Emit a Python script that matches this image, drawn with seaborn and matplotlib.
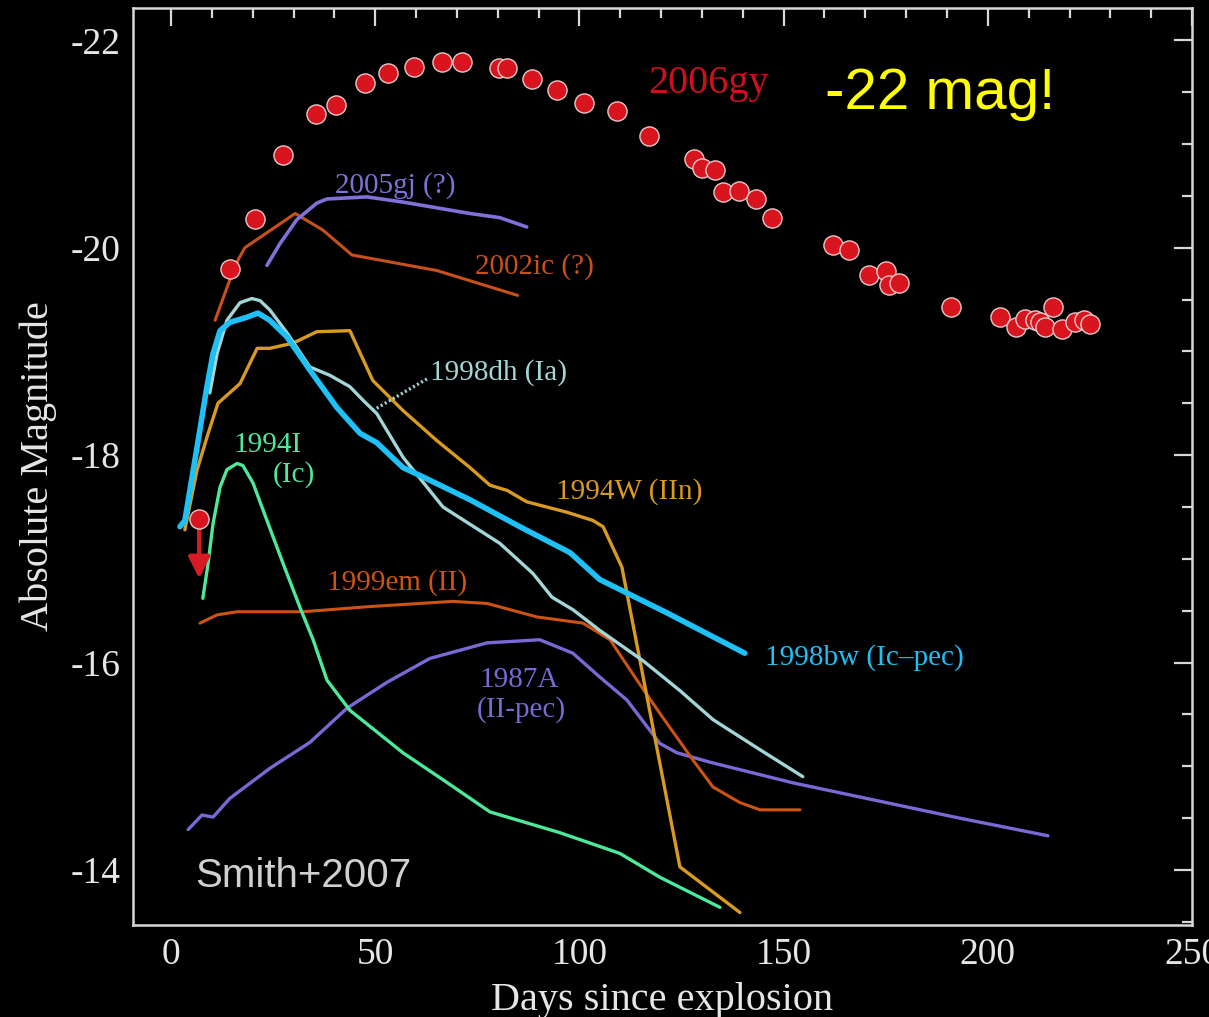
import numpy as np
import pandas as pd
import matplotlib
matplotlib.use('Agg')
import matplotlib.pyplot as plt
from matplotlib.ticker import MultipleLocator
import seaborn as sns

# --- light curve data (days since explosion, absolute mag) ---
sn2006gy_days = [14.4, 20.6, 27.4, 35.5, 40.4, 47.5, 53.1, 59.5, 66.3, 71.2, 80.3, 82.3,
                 88.4, 94.5, 101.1, 109.2, 117.0, 128.0, 130.0, 133.2, 135.1, 139.0,
                 143.2, 147.1, 162.1, 166.0, 170.9, 175.0, 175.8, 178.2, 190.9, 202.9,
                 206.9, 209.1, 211.5, 212.7, 214.0, 215.9, 218.1, 221.3, 223.5, 225.0]
sn2006gy_mag = [-19.79, -20.28, -20.89, -21.29, -21.38, -21.59, -21.68, -21.74, -21.79,
                -21.79, -21.73, -21.73, -21.63, -21.52, -21.40, -21.32, -21.08, -20.86,
                -20.77, -20.75, -20.54, -20.55, -20.47, -20.29, -20.03, -19.98, -19.74,
                -19.78, -19.64, -19.66, -19.43, -19.33, -19.24, -19.31, -19.30, -19.28,
                -19.24, -19.43, -19.22, -19.28, -19.30, -19.26]
# first epoch is an upper limit
sn2006gy_limit_day = 6.9
sn2006gy_limit_mag = -17.38
sn2006gy_limit_tip = -16.81

sn2005gj_days = [23.5, 26.7, 30.8, 35.7, 38.2, 48.0, 56.8, 73.2, 80.5, 87.1]
sn2005gj_mag = [-19.83, -20.04, -20.27, -20.43, -20.47, -20.49, -20.44, -20.33, -20.29, -20.20]

sn2002ic_days = [10.8, 14.4, 16.4, 18.1, 30.4, 32.1, 37.2, 44.3, 65.1, 84.9]
sn2002ic_mag = [-19.30, -19.69, -19.88, -20.00, -20.33, -20.29, -20.17, -19.93, -19.78, -19.54]

sn1998dh_days = [9.5, 11.3, 13.7, 16.9, 19.8, 21.8, 24.2, 28.4, 34.0, 38.9, 43.8, 47.0,
                 50.4, 56.8, 66.6, 80.5, 88.6, 93.3, 98.4, 105.0, 115.5, 124.6, 132.7,
                 144.2, 154.7]
sn1998dh_mag = [-18.60, -18.98, -19.30, -19.47, -19.51, -19.49, -19.40, -19.18, -18.85,
                -18.77, -18.66, -18.53, -18.40, -17.98, -17.50, -17.15, -16.86, -16.63,
                -16.51, -16.31, -16.02, -15.73, -15.45, -15.16, -14.90]

sn1998bw_days = [2.2, 3.4, 6.4, 8.8, 10.3, 12.0, 14.4, 18.6, 21.3, 24.2, 28.4, 34.0,
                 40.6, 46.3, 50.4, 56.8, 61.7, 73.2, 85.4, 97.7, 105.0, 121.4, 140.5]
sn1998bw_mag = [-17.31, -17.37, -18.08, -18.66, -18.98, -19.20, -19.28, -19.33, -19.37,
                -19.30, -19.14, -18.82, -18.46, -18.21, -18.12, -17.88, -17.79, -17.57,
                -17.31, -17.06, -16.80, -16.48, -16.09]

sn1994W_days = [3.4, 6.4, 9.1, 11.5, 16.9, 21.1, 24.2, 29.9, 35.7, 43.8, 49.4, 56.8,
                65.1, 73.2, 78.1, 82.3, 87.1, 96.9, 103.3, 105.8, 110.4, 124.6, 139.3]
sn1994W_mag = [-17.28, -17.86, -18.21, -18.50, -18.69, -19.03, -19.03, -19.08, -19.19,
               -19.20, -18.72, -18.43, -18.14, -17.88, -17.71, -17.66, -17.55, -17.45,
               -17.37, -17.31, -16.92, -14.03, -13.59]

sn1994I_days = [7.8, 9.1, 10.3, 12.0, 13.7, 16.2, 17.6, 20.1, 23.5, 27.4, 31.6, 34.8,
                38.2, 43.8, 56.8, 66.6, 78.1, 95.2, 109.9, 119.7, 134.4]
sn1994I_mag = [-16.62, -16.96, -17.34, -17.69, -17.86, -17.92, -17.90, -17.73, -17.37,
               -16.96, -16.53, -16.22, -15.83, -15.54, -15.13, -14.87, -14.56, -14.36,
               -14.16, -13.93, -13.64]

sn1999em_days = [7.1, 11.3, 16.2, 32.3, 48.7, 69.0, 77.4, 89.6, 100.9, 107.5, 114.1,
                 119.7, 127.8, 132.7, 139.3, 144.2, 154.0]
sn1999em_mag = [-16.38, -16.46, -16.49, -16.49, -16.54, -16.59, -16.57, -16.44, -16.38,
                -16.22, -15.83, -15.51, -15.06, -14.80, -14.65, -14.58, -14.58]

sn1987A_days = [4.2, 7.6, 10.3, 14.4, 24.2, 34.0, 43.1, 52.9, 63.4, 77.4, 90.3, 98.4,
                105.0, 111.6, 119.7, 123.9, 131.9, 152.3, 193.1, 214.7]
sn1987A_mag = [-14.39, -14.53, -14.51, -14.69, -14.98, -15.23, -15.56, -15.81, -16.04,
               -16.19, -16.22, -16.09, -15.86, -15.64, -15.22, -15.13, -15.04, -14.84,
               -14.50, -14.33]

# dotted pointer from the 1998dh label to its curve
leader_days = [49.4, 62.9]
leader_mag = [-18.43, -18.74]

curves = {
    '1987A': (sn1987A_days, sn1987A_mag, '#7a68d4', 2.4),
    '1999em': (sn1999em_days, sn1999em_mag, '#cc5312', 2.2),
    '1994I': (sn1994I_days, sn1994I_mag, '#4ee89a', 2.4),
    '1994W': (sn1994W_days, sn1994W_mag, '#d89a20', 2.4),
    '1998dh': (sn1998dh_days, sn1998dh_mag, '#a3d6d6', 2.4),
    '1998bw': (sn1998bw_days, sn1998bw_mag, '#1ec0f5', 4.0),
    '2002ic': (sn2002ic_days, sn2002ic_mag, '#c8501a', 2.2),
    '2005gj': (sn2005gj_days, sn2005gj_mag, '#8070d8', 2.6),
}

sns.set_style("dark", {"axes.facecolor": "black", "figure.facecolor": "black"})
plt.rcParams['font.family'] = ['Liberation Serif', 'DejaVu Serif']
plt.rcParams['axes.unicode_minus'] = False

fig = plt.figure(figsize=(12.09, 10.17), dpi=100)
ax = fig.add_axes([0.110, 0.0905, 0.876, 0.9015])
ax.set_facecolor('black')

for name, (d, m, col, lw) in curves.items():
    df = pd.DataFrame({'day': d, 'mag': m})
    sns.lineplot(data=df, x='day', y='mag', sort=False, color=col, lw=lw,
                 ax=ax, zorder=2)

ld = pd.DataFrame({'day': leader_days, 'mag': leader_mag})
sns.lineplot(data=ld, x='day', y='mag', sort=False, color='#a3d6d6', lw=2.4,
             ls=(0, (0.6, 0.8)), ax=ax, zorder=2)

# upper-limit arrow for the first 2006gy epoch
ax.annotate('', xy=(sn2006gy_limit_day, sn2006gy_limit_tip),
            xytext=(sn2006gy_limit_day, sn2006gy_limit_mag),
            arrowprops=dict(arrowstyle='-|>', color='#d81a24', lw=3.2,
                            mutation_scale=32, shrinkA=0, shrinkB=0), zorder=3)

pts = pd.DataFrame({'day': [sn2006gy_limit_day] + sn2006gy_days,
                    'mag': [sn2006gy_limit_mag] + sn2006gy_mag})
sns.scatterplot(data=pts, x='day', y='mag', s=190, color='#d8141f',
                edgecolor='#e8c8c8', linewidth=1.0, ax=ax, zorder=4)

# --- axes styling ---
ax.set_xlim(-9.3, 250)
ax.set_ylim(-13.47, -22.31)
ax.xaxis.set_major_locator(MultipleLocator(50))
ax.xaxis.set_minor_locator(MultipleLocator(10))
ax.yaxis.set_major_locator(MultipleLocator(2))
ax.yaxis.set_minor_locator(MultipleLocator(0.5))
ax.tick_params(which='both', direction='in', top=True, right=True,
               color='#d8d8d8', width=1.6, labelcolor='#e6e6e6', labelsize=27)
ax.tick_params(which='major', length=13, pad=9)
ax.tick_params(which='minor', length=7)
for s in ax.spines.values():
    s.set_color('#d8d8d8')
    s.set_linewidth(1.8)
ax.grid(False)

ax.set_xlabel('Days since explosion', fontsize=29, color='#e6e6e6', labelpad=7)
ax.set_ylabel('Absolute Magnitude', fontsize=29, color='#e6e6e6', labelpad=10)

# --- curve labels ---
labels = [
    (40.1, -20.535, '2005gj (?)', '#8070d8', 21),
    (74.4, -19.754, '2002ic (?)', '#c8501a', 21),
    (63.4, -18.723, '1998dh (Ia)', '#a3d6d6', 21),
    (15.2, -18.03, '1994I', '#4ee89a', 21),
    (25.0, -17.74, '(Ic)', '#4ee89a', 21),
    (94.2, -17.585, '1994W (IIn)', '#d89a20', 21),
    (38.2, -16.70, '1999em (II)', '#cc5312', 21),
    (145.4, -15.976, '1998bw (Ic\u2013pec)', '#1ec0f5', 21),
    (75.6, -15.764, '1987A', '#7a68d4', 21),
    (74.9, -15.475, '(II-pec)', '#7a68d4', 21),
    (116.8, -21.49, '2006gy', '#cc1020', 29),
]
for x, y, txt, col, fs in labels:
    ax.text(x, y, txt, color=col, fontsize=fs, ha='left', va='baseline')

ax.text(160.1, -21.335, '-22 mag!', color='#ffff00', fontsize=42,
        family='Liberation Sans', ha='left', va='baseline')
ax.text(5.9, -13.836, 'Smith+2007', color='#d0d0d0', fontsize=29,
        family='Liberation Sans', ha='left', va='baseline')

fig.savefig('out.png', dpi=100, facecolor='black')
